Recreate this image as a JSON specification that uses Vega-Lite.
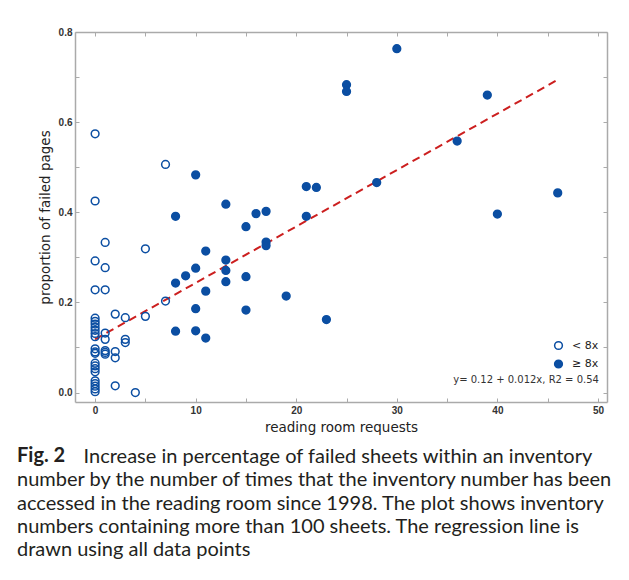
{
  "$schema": "https://vega.github.io/schema/vega-lite/v6.json",
  "width": 532,
  "height": 370,
  "autosize": {"type": "none"},
  "padding": {"left": 75, "top": 32, "right": 22, "bottom": 178},
  "background": "white",
  "config": {"view": {"stroke": null}, "font": "DejaVu Sans"},
  "title": {
    "text": "Fig. 2",
    "subtitle": [
      "\u200b\u00a0\u00a0\u00a0\u00a0\u00a0\u00a0\u00a0\u00a0\u00a0\u00a0\u00a0\u00a0\u00a0Increase in percentage of failed sheets within an inventory",
      "number by the number of times that the inventory number has been",
      "accessed in the reading room since 1998. The plot shows inventory",
      "numbers containing more than 100 sheets. The regression line is",
      "drawn using all data points"
    ],
    "orient": "bottom",
    "anchor": "start",
    "frame": "group",
    "dx": -58,
    "offset": 12,
    "font": "Lato",
    "fontSize": 20,
    "fontWeight": "bold",
    "color": "#231f20",
    "lineHeight": 23.5,
    "subtitleFont": "Lato",
    "subtitleFontSize": 20,
    "subtitleFontWeight": "normal",
    "subtitleColor": "#231f20",
    "subtitleLineHeight": 23.3,
    "subtitlePadding": -18.5
  },
  "datasets": {
    "points": [
      {"x": 0, "y": 0.574, "group": "< 8x"},
      {"x": 0, "y": 0.425, "group": "< 8x"},
      {"x": 0, "y": 0.292, "group": "< 8x"},
      {"x": 0, "y": 0.228, "group": "< 8x"},
      {"x": 0, "y": 0.165, "group": "< 8x"},
      {"x": 0, "y": 0.158, "group": "< 8x"},
      {"x": 0, "y": 0.152, "group": "< 8x"},
      {"x": 0, "y": 0.145, "group": "< 8x"},
      {"x": 0, "y": 0.138, "group": "< 8x"},
      {"x": 0, "y": 0.131, "group": "< 8x"},
      {"x": 0, "y": 0.124, "group": "< 8x"},
      {"x": 0, "y": 0.097, "group": "< 8x"},
      {"x": 0, "y": 0.09, "group": "< 8x"},
      {"x": 0, "y": 0.087, "group": "< 8x"},
      {"x": 0, "y": 0.065, "group": "< 8x"},
      {"x": 0, "y": 0.059, "group": "< 8x"},
      {"x": 0, "y": 0.053, "group": "< 8x"},
      {"x": 0, "y": 0.046, "group": "< 8x"},
      {"x": 0, "y": 0.026, "group": "< 8x"},
      {"x": 0, "y": 0.02, "group": "< 8x"},
      {"x": 0, "y": 0.014, "group": "< 8x"},
      {"x": 0, "y": 0.008, "group": "< 8x"},
      {"x": 0, "y": 0.002, "group": "< 8x"},
      {"x": 1, "y": 0.333, "group": "< 8x"},
      {"x": 1, "y": 0.277, "group": "< 8x"},
      {"x": 1, "y": 0.228, "group": "< 8x"},
      {"x": 1, "y": 0.132, "group": "< 8x"},
      {"x": 1, "y": 0.118, "group": "< 8x"},
      {"x": 1, "y": 0.093, "group": "< 8x"},
      {"x": 1, "y": 0.089, "group": "< 8x"},
      {"x": 1, "y": 0.085, "group": "< 8x"},
      {"x": 2, "y": 0.174, "group": "< 8x"},
      {"x": 2, "y": 0.091, "group": "< 8x"},
      {"x": 2, "y": 0.077, "group": "< 8x"},
      {"x": 2, "y": 0.015, "group": "< 8x"},
      {"x": 3, "y": 0.166, "group": "< 8x"},
      {"x": 3, "y": 0.118, "group": "< 8x"},
      {"x": 3, "y": 0.111, "group": "< 8x"},
      {"x": 4, "y": 0.0, "group": "< 8x"},
      {"x": 5, "y": 0.319, "group": "< 8x"},
      {"x": 5, "y": 0.169, "group": "< 8x"},
      {"x": 7, "y": 0.506, "group": "< 8x"},
      {"x": 7, "y": 0.203, "group": "< 8x"},
      {"x": 8, "y": 0.391, "group": "≥ 8x"},
      {"x": 8, "y": 0.243, "group": "≥ 8x"},
      {"x": 8, "y": 0.136, "group": "≥ 8x"},
      {"x": 9, "y": 0.259, "group": "≥ 8x"},
      {"x": 10, "y": 0.483, "group": "≥ 8x"},
      {"x": 10, "y": 0.276, "group": "≥ 8x"},
      {"x": 10, "y": 0.186, "group": "≥ 8x"},
      {"x": 10, "y": 0.137, "group": "≥ 8x"},
      {"x": 11, "y": 0.314, "group": "≥ 8x"},
      {"x": 11, "y": 0.225, "group": "≥ 8x"},
      {"x": 11, "y": 0.121, "group": "≥ 8x"},
      {"x": 13, "y": 0.418, "group": "≥ 8x"},
      {"x": 13, "y": 0.294, "group": "≥ 8x"},
      {"x": 13, "y": 0.271, "group": "≥ 8x"},
      {"x": 13, "y": 0.246, "group": "≥ 8x"},
      {"x": 15, "y": 0.368, "group": "≥ 8x"},
      {"x": 15, "y": 0.257, "group": "≥ 8x"},
      {"x": 15, "y": 0.183, "group": "≥ 8x"},
      {"x": 16, "y": 0.397, "group": "≥ 8x"},
      {"x": 17, "y": 0.402, "group": "≥ 8x"},
      {"x": 17, "y": 0.334, "group": "≥ 8x"},
      {"x": 17, "y": 0.326, "group": "≥ 8x"},
      {"x": 19, "y": 0.214, "group": "≥ 8x"},
      {"x": 21, "y": 0.457, "group": "≥ 8x"},
      {"x": 21, "y": 0.391, "group": "≥ 8x"},
      {"x": 22, "y": 0.455, "group": "≥ 8x"},
      {"x": 23, "y": 0.162, "group": "≥ 8x"},
      {"x": 25, "y": 0.683, "group": "≥ 8x"},
      {"x": 25, "y": 0.668, "group": "≥ 8x"},
      {"x": 28, "y": 0.466, "group": "≥ 8x"},
      {"x": 30, "y": 0.763, "group": "≥ 8x"},
      {"x": 36, "y": 0.558, "group": "≥ 8x"},
      {"x": 39, "y": 0.66, "group": "≥ 8x"},
      {"x": 40, "y": 0.396, "group": "≥ 8x"},
      {"x": 46, "y": 0.443, "group": "≥ 8x"}
    ],
    "fit": [
      {"x": 0, "y": 0.118},
      {"x": 46, "y": 0.694}
    ],
    "eq": [
      {"x": 50.1, "y": 0.028, "label": "y= 0.12 + 0.012x, R2 = 0.54"}
    ]
  },
  "layer": [
    {
      "data": {"name": "fit"},
      "mark": {"type": "line", "color": "#cc1f1f", "strokeWidth": 2, "strokeDash": [8, 5]},
      "encoding": {
        "x": {
          "field": "x", "type": "quantitative",
          "scale": {"domain": [-2, 50.9], "nice": false, "zero": false},
          "axis": {
            "orient": "bottom",
            "values": [0, 5, 10, 15, 20, 25, 30, 35, 40, 45, 50],
            "labelExpr": "datum.value % 10 == 0 ? datum.label : ''",
            "format": "d",
            "grid": false,
            "domainColor": "#aaaaaa", "domainWidth": 1.5,
            "tickColor": "#aaaaaa", "tickWidth": 1, "tickSize": -4,
            "labelPadding": 7,
            "labelFont": "Liberation Sans", "labelFontWeight": "bold", "labelFontSize": 10, "labelColor": "#333333",
            "title": "reading room requests",
            "titleFont": "DejaVu Sans", "titleFontWeight": "normal", "titleFontSize": 13.5, "titleColor": "#222222",
            "titlePadding": 5
          }
        },
        "y": {
          "field": "y", "type": "quantitative",
          "scale": {"domain": [-0.021, 0.8], "nice": false, "zero": false},
          "axis": {
            "orient": "left",
            "values": [0, 0.1, 0.2, 0.3, 0.4, 0.5, 0.6, 0.7, 0.8],
            "labelExpr": "round(datum.value * 10) % 2 == 0 ? format(datum.value, '.1f') : ''",
            "grid": false,
            "domainColor": "#aaaaaa", "domainWidth": 1.5,
            "tickColor": "#aaaaaa", "tickWidth": 1, "tickSize": -4,
            "labelPadding": 7,
            "labelFont": "Liberation Sans", "labelFontWeight": "bold", "labelFontSize": 10, "labelColor": "#333333",
            "title": "proportion of failed pages",
            "titleFont": "DejaVu Sans", "titleFontWeight": "normal", "titleFontSize": 13.5, "titleColor": "#222222",
            "titlePadding": 6
          }
        }
      }
    },
    {
      "data": {"name": "points"},
      "mark": {"type": "point", "shape": "circle", "size": 60, "strokeWidth": 1.5, "stroke": "#0b4ea2", "opacity": 1, "filled": false},
      "encoding": {
        "x": {
          "field": "x", "type": "quantitative",
          "scale": {"domain": [-2, 50.9], "nice": false, "zero": false},
          "axis": {
            "orient": "top",
            "values": [0, 5, 10, 15, 20, 25, 30, 35, 40, 45, 50],
            "labels": false, "title": null, "grid": false,
            "domainColor": "#aaaaaa", "domainWidth": 1.5,
            "tickColor": "#aaaaaa", "tickWidth": 1, "tickSize": -4
          }
        },
        "y": {
          "field": "y", "type": "quantitative",
          "scale": {"domain": [-0.021, 0.8], "nice": false, "zero": false},
          "axis": {
            "orient": "right",
            "values": [0, 0.1, 0.2, 0.3, 0.4, 0.5, 0.6, 0.7, 0.8],
            "labels": false, "title": null, "grid": false,
            "domainColor": "#aaaaaa", "domainWidth": 1.5,
            "tickColor": "#aaaaaa", "tickWidth": 1, "tickSize": -4
          }
        },
        "fill": {
          "field": "group", "type": "nominal",
          "scale": {"domain": ["< 8x", "≥ 8x"], "range": ["transparent", "#0b4ea2"]},
          "legend": {
            "orient": "none",
            "legendX": 478,
            "legendY": 308,
            "title": null,
            "padding": 0,
            "symbolType": "circle",
            "symbolSize": 60,
            "symbolStrokeColor": "#0b4ea2",
            "symbolStrokeWidth": 1.5,
            "labelFont": "DejaVu Sans",
            "labelFontSize": 11,
            "labelColor": "#222222",
            "labelOffset": 8,
            "rowPadding": 3.5
          }
        }
      }
    },
    {
      "data": {"name": "eq"},
      "mark": {"type": "text", "align": "right", "baseline": "middle", "font": "DejaVu Sans", "fontSize": 10, "color": "#333333"},
      "encoding": {
        "x": {"field": "x", "type": "quantitative", "scale": {"domain": [-2, 50.9], "nice": false, "zero": false}, "axis": null},
        "y": {"field": "y", "type": "quantitative", "scale": {"domain": [-0.021, 0.8], "nice": false, "zero": false}, "axis": null},
        "text": {"field": "label"}
      }
    }
  ],
  "resolve": {"axis": {"x": "independent", "y": "independent"}}
}
